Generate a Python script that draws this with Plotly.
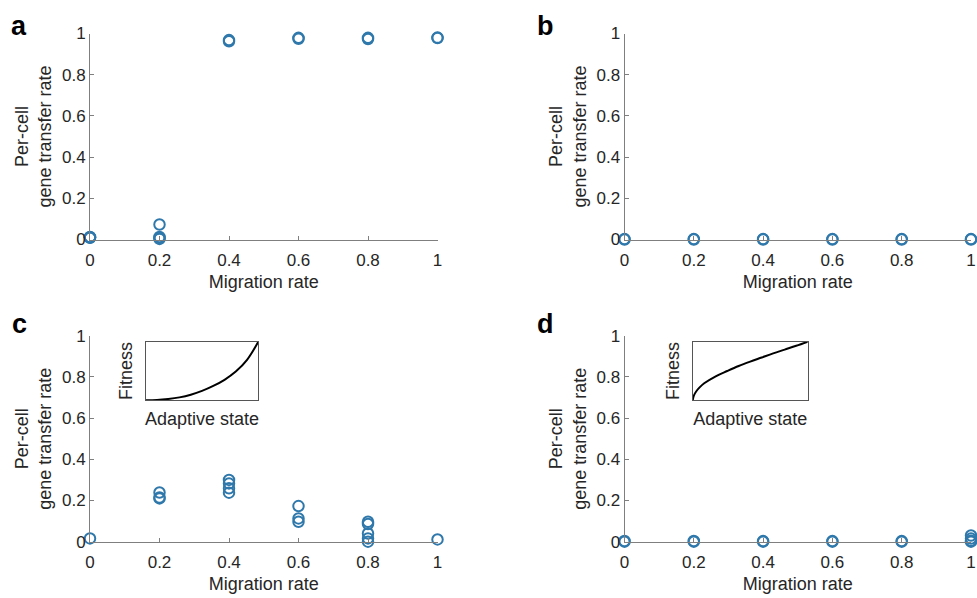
import plotly.graph_objects as go

# ---------------- data ----------------
x_a = [0, 0, 0, 0, 0.2, 0.2, 0.2, 0.2, 0.4, 0.4, 0.6, 0.6, 0.8, 0.8, 1, 1]
y_a = [0.01, 0.012, 0.008, 0.01, 0.073, 0.012, 0.006, 0.003, 0.968, 0.962,
       0.979, 0.974, 0.979, 0.973, 0.98, 0.978]

x_b = [0, 0, 0.2, 0.2, 0.4, 0.4, 0.6, 0.6, 0.8, 0.8, 1, 1]
y_b = [0.002, 0.0, 0.002, 0.0, 0.002, 0.0, 0.002, 0.0, 0.002, 0.0, 0.002, 0.0]

x_c = [0, 0.2, 0.2, 0.2, 0.4, 0.4, 0.4, 0.4, 0.6, 0.6, 0.6,
       0.8, 0.8, 0.8, 0.8, 0.8, 1]
y_c = [0.016, 0.239, 0.215, 0.21, 0.30, 0.283, 0.259, 0.238, 0.173, 0.113, 0.097,
       0.097, 0.086, 0.04, 0.016, 0.0, 0.011]

x_d = [0, 0, 0.2, 0.2, 0.4, 0.4, 0.6, 0.6, 0.8, 0.8, 1, 1, 1, 1]
y_d = [0.004, 0.0, 0.004, 0.0, 0.003, 0.0, 0.003, 0.0, 0.003, 0.0, 0.03, 0.015, 0.005, 0.0]

# inset curves
ins_x_c = [0, 0.1, 0.2, 0.3, 0.4, 0.5, 0.6, 0.7, 0.8, 0.9, 1.0]
ins_y_c = [0, 0.005, 0.022, 0.05, 0.095, 0.16, 0.245, 0.35, 0.49, 0.69, 1.0]
ins_x_d = [0, 0.01, 0.03, 0.06, 0.1, 0.2, 0.3, 0.4, 0.5, 0.6, 0.7, 0.8, 0.9, 1.0]
ins_y_d = [0, 0.08, 0.15, 0.22, 0.29, 0.41, 0.50, 0.585, 0.66, 0.73, 0.80, 0.865, 0.93, 1.0]

tick_vals = [0, 0.2, 0.4, 0.6, 0.8, 1]
tick_text = ["0", "0.2", "0.4", "0.6", "0.8", "1"]
panel_letters = ["a", "b", "c", "d"]
x_title = "Migration rate"
y_title = "Per-cell<br>gene transfer rate"

# ---------------- style ----------------
FONT = "Liberation Sans, Arial, Helvetica, sans-serif"
MCOL = "#2f78ab"
LCOL = "#7f7f7f"
TCOL = "#262626"
W, H = 977, 598

def px_x(p):
    return p / W

def px_y(p):
    return 1 - p / H

x_dom_left = [px_x(90), px_x(437.5)]
x_dom_right = [px_x(624.5), px_x(971)]
y_dom_top = [px_y(239.5), px_y(33.5)]
y_dom_bot = [px_y(541.7), px_y(335.7)]

fig = go.Figure()

series = [(x_a, y_a), (x_b, y_b), (x_c, y_c), (x_d, y_d)]
for i, (xs, ys) in enumerate(series):
    suf = "" if i == 0 else str(i + 1)
    fig.add_trace(go.Scatter(
        x=xs, y=ys, mode="markers", xaxis="x" + suf, yaxis="y" + suf,
        marker=dict(symbol="circle-open", size=10.5, color=MCOL,
                    line=dict(width=2, color=MCOL)),
        cliponaxis=False, showlegend=False))

fig.add_trace(go.Scatter(x=ins_x_c, y=ins_y_c, mode="lines", xaxis="x5", yaxis="y5",
                         line=dict(color="black", width=2, shape="spline"),
                         showlegend=False))
fig.add_trace(go.Scatter(x=ins_x_d, y=ins_y_d, mode="lines", xaxis="x6", yaxis="y6",
                         line=dict(color="black", width=2, shape="spline"),
                         showlegend=False))

def xax(dom, anchor):
    return dict(domain=dom, anchor=anchor, range=[0, 1], showline=True,
                linecolor=LCOL, linewidth=1, ticks="inside", ticklen=4,
                tickcolor=LCOL, tickvals=tick_vals, ticktext=tick_text,
                showgrid=False, zeroline=False, automargin=False,
                ticklabelstandoff=5,
                tickfont=dict(size=17, color=TCOL, family=FONT),
                title=dict(text=x_title, font=dict(size=18, color=TCOL, family=FONT),
                           standoff=6))

def yax(dom, anchor):
    return dict(domain=dom, anchor=anchor, range=[0, 1], showline=True,
                linecolor=LCOL, linewidth=1, ticks="inside", ticklen=4,
                tickcolor=LCOL, tickvals=tick_vals, ticktext=tick_text,
                showgrid=False, zeroline=False, automargin=False,
                tickfont=dict(size=17, color=TCOL, family=FONT),
                title=dict(text=y_title, font=dict(size=18, color=TCOL, family=FONT),
                           standoff=5))

def inset_x(dom, anchor):
    return dict(domain=dom, anchor=anchor, range=[0, 1], showline=True, mirror=True,
                linecolor="#555555", linewidth=1, ticks="", showticklabels=False,
                showgrid=False, zeroline=False, automargin=False,
                title=dict(text="Adaptive state", font=dict(size=18, color=TCOL, family=FONT),
                           standoff=12))

def inset_y(dom, anchor):
    return dict(domain=dom, anchor=anchor, range=[0, 1], showline=True, mirror=True,
                linecolor="#555555", linewidth=1, ticks="", showticklabels=False,
                showgrid=False, zeroline=False, automargin=False,
                title=dict(text="Fitness", font=dict(size=18, color=TCOL, family=FONT),
                           standoff=7))

ins_y_dom = [px_y(400.3), px_y(341.7)]

fig.update_layout(
    width=W, height=H, margin=dict(l=0, r=0, t=0, b=0, autoexpand=False),
    paper_bgcolor="white", plot_bgcolor="white",
    font=dict(family=FONT, color=TCOL),
    xaxis=xax(x_dom_left, "y"), yaxis=yax(y_dom_top, "x"),
    xaxis2=xax(x_dom_right, "y2"), yaxis2=yax(y_dom_top, "x2"),
    xaxis3=xax(x_dom_left, "y3"), yaxis3=yax(y_dom_bot, "x3"),
    xaxis4=xax(x_dom_right, "y4"), yaxis4=yax(y_dom_bot, "x4"),
    xaxis5=inset_x([px_x(145.7), px_x(258.3)], "y5"), yaxis5=inset_y(ins_y_dom, "x5"),
    xaxis6=inset_x([px_x(692.7), px_x(807.7)], "y6"), yaxis6=inset_y(ins_y_dom, "x6"),
)

letter_pos = [(19, 26), (545, 26), (19, 324), (545, 324)]
for letter, (lx, ly) in zip(panel_letters, letter_pos):
    fig.add_annotation(text="<b>%s</b>" % letter, x=px_x(lx), y=px_y(ly),
                       xref="paper", yref="paper", xanchor="center", yanchor="middle",
                       showarrow=False, font=dict(size=27, color="black", family=FONT))

fig.write_html("out.html")
